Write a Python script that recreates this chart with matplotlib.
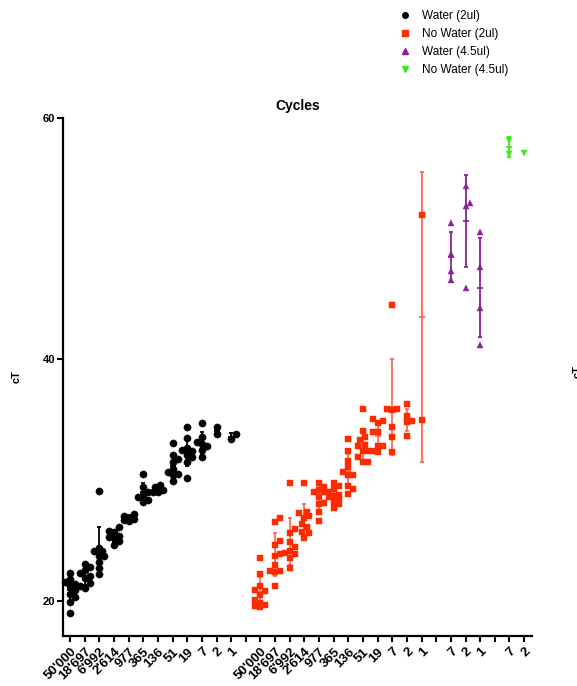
import numpy as np
import matplotlib
matplotlib.use("Agg")
import matplotlib.pyplot as plt
from matplotlib.lines import Line2D

plt.rcParams['font.family'] = ['Liberation Sans', 'DejaVu Sans']

# Dilution labels for the 2 ul series and the 4.5 ul series
dilutions = ["50'000", "18'697", "6'992", "2'614", "977", "365",
             "136", "51", "19", "7", "2", "1"]
dilutions_45 = ["7", "2", "1"]
dilutions_45_nw = ["7", "2"]

# cT replicates per dilution
water_2ul = [
    [22.3, 21.8, 21.6, 21.4, 21.2, 20.9, 20.6, 20.3, 19.9, 19.0],
    [23.1, 22.8, 22.6, 22.3, 22.1, 21.9, 21.5, 21.2, 21.1],
    [29.1, 24.4, 24.1, 24.1, 23.7, 23.7, 23.2, 22.7, 22.2],
    [26.1, 25.8, 25.7, 25.4, 25.3, 25.2, 25.0, 24.6],
    [27.2, 27.0, 26.9, 26.8, 26.7, 26.6],
    [30.5, 29.4, 29.0, 28.8, 28.6, 28.4, 28.2],
    [29.6, 29.4, 29.2, 29.0, 29.0],
    [33.1, 32.1, 31.8, 31.5, 30.9, 30.7, 30.5, 30.4, 29.9],
    [34.4, 33.5, 32.7, 32.5, 32.4, 32.1, 31.9, 31.5, 30.2],
    [34.7, 33.6, 33.2, 33.0, 32.8, 32.5, 31.9],
    [34.4, 33.8],
    [33.8, 33.4],
]
no_water_2ul = [
    [23.6, 22.2, 21.2, 20.9, 20.8, 20.5, 20.1, 19.8, 19.7, 19.6, 19.5],
    [26.9, 26.5, 25.0, 24.6, 23.9, 23.7, 23.0, 22.5, 22.4, 22.5, 21.2],
    [29.8, 26.0, 25.6, 24.9, 24.5, 24.1, 24.0, 23.9, 23.6, 22.7],
    [29.8, 27.4, 27.3, 27.0, 26.9, 26.4, 26.1, 25.7, 25.6, 25.2],
    [29.8, 29.4, 29.2, 29.0, 29.0, 28.6, 28.1, 28.0, 27.4, 26.6],
    [29.8, 29.5, 29.3, 29.0, 28.8, 28.7, 28.6, 28.5, 28.2, 28.0, 27.7],
    [33.4, 32.4, 31.6, 31.1, 30.7, 30.4, 30.4, 29.5, 29.3, 28.9],
    [35.9, 34.1, 33.6, 33.3, 32.9, 32.8, 32.4, 32.4, 31.9, 31.5, 31.5],
    [35.1, 34.9, 34.7, 34.0, 34.0, 32.8, 32.8, 32.4, 32.3],
    [44.5, 35.9, 35.8, 35.9, 34.4, 33.6, 32.3],
    [36.3, 35.3, 34.9, 34.8, 33.7],
    [52.0, 35.0],
]
water_45ul = [
    [51.3, 48.7, 47.3, 46.6],
    [54.4, 53.0, 52.7, 45.9],
    [50.6, 47.7, 44.3, 41.2],
]
no_water_45ul = [
    [58.2, 57.0],
    [57.1],
]

series = [
    # label, data, first column slot, marker, colour, error-bar colour
    ("Water (2ul)", water_2ul, 0, 'o', '#000000', '#000000'),
    ("No Water (2ul)", no_water_2ul, 13, 's', '#FF2A00', '#FF6A55'),
    ("Water (4.5ul)", water_45ul, 26, '^', '#8E1E9A', '#8E1E9A'),
    ("No Water (4.5ul)", no_water_45ul, 30, 'v', '#33EE11', '#33EE11'),
]
tick_labels = dilutions + [""] + dilutions + [""] + dilutions_45 + [""] + dilutions_45_nw

W, H = 577, 686
fig = plt.figure(figsize=(W / 100, H / 100), dpi=100)
ax = fig.add_axes([63 / W, 50 / H, (532 - 63) / W, (636 - 118) / H])
ax.set_xlim(-0.48, 31.54)
ax.set_ylim(17.1, 60)


def swarm(values, x0, min_px, step=0.17, max_off=0.5):
    """Spread points sideways so markers in one column do not pile up."""
    cands = [0.0]
    k = 1
    while k * step <= max_off + 1e-9:
        cands += [k * step, -k * step]
        k += 1
    placed = []
    offs = np.zeros(len(values))
    for i in np.argsort(values):
        best, best_d = 0.0, -1
        for c in cands:
            p = ax.transData.transform((x0 + c, values[i]))
            d = min([np.hypot(*(p - q)) for q in placed], default=1e9)
            if d >= min_px:
                best = c
                break
            if d > best_d:
                best, best_d = c, d
        offs[i] = best
        placed.append(ax.transData.transform((x0 + best, values[i])))
    return offs


msize = {'o': 5.2, 's': 5.0, '^': 4.8, 'v': 4.8}
legend_size = {'o': 4.0, 's': 4.2, '^': 4.2, 'v': 4.2}
handles = []
for label, data, start, marker, color, ecolor in series:
    for j, col in enumerate(data):
        x0 = start + j
        vals = np.asarray(col, dtype=float)
        if len(vals) > 1:
            m = vals.mean()
            sd = vals.std(ddof=1)
            ax.errorbar([x0], [m], yerr=[sd], fmt='none', ecolor=ecolor,
                        elinewidth=1.3, capsize=1.6, capthick=1.3, zorder=2)
            ax.plot([x0], [m], marker='_', ms=4, mew=1.3, color=ecolor, zorder=2)
        offs = swarm(vals, x0, min_px=5.5)
        ax.plot(x0 + offs, vals, ls='none', marker=marker, ms=msize[marker],
                mfc=color, mec=color, mew=0.3, zorder=3, clip_on=False)
    handles.append(Line2D([], [], ls='none', marker=marker, ms=legend_size[marker],
                          mfc=color, mec=color, label=label))

# axes styling
for side in ('top', 'right'):
    ax.spines[side].set_visible(False)
for side in ('left', 'bottom'):
    ax.spines[side].set_linewidth(1.6)

ax.set_yticks([20, 40, 60])
ax.set_xticks(np.arange(len(tick_labels)))
ax.set_xticklabels(tick_labels, rotation=45, ha='right', va='top',
                   rotation_mode='anchor', fontweight='bold', fontsize=9.5)
ax.tick_params(axis='both', direction='out', length=4, width=1.5, pad=1.5)
ax.tick_params(axis='x', pad=3)
for t in ax.get_yticklabels():
    t.set_fontweight('bold')
    t.set_fontsize(8)

ax.set_title("Cycles", fontsize=10, fontweight='bold', pad=6)
ax.set_ylabel("cT", fontsize=8, fontweight='bold')
ax.yaxis.set_label_coords(-(63 - 22) / (532 - 63), 0.5)

# label of the neighbouring panel, cut by the page edge
fig.text(578 / W, 1 - 372 / H, "cT", rotation=90, ha='center', va='center',
         fontsize=8, fontweight='bold')

fig.legend(handles=handles, loc='upper left', bbox_to_anchor=(400 / W, 1 - 10.5 / H),
           frameon=False, fontsize=8.5, handlelength=0.8, handletextpad=1.05,
           labelspacing=0.5, borderpad=0, borderaxespad=0)

fig.savefig("out.png", dpi=100)
